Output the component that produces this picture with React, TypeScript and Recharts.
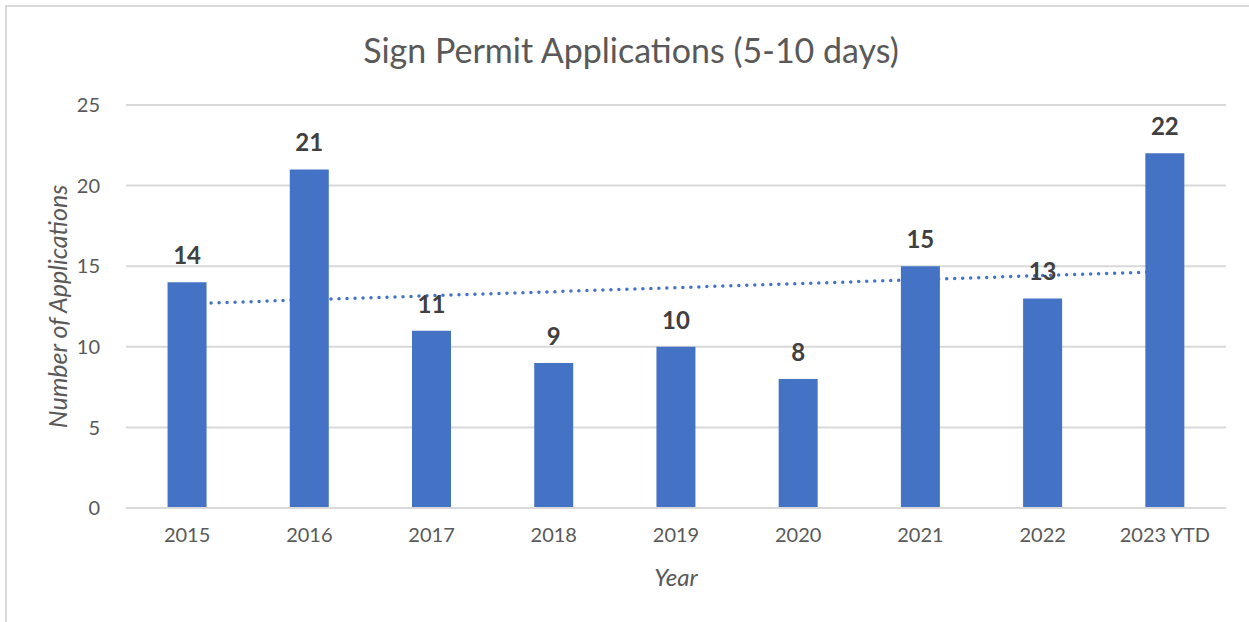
import {
  ComposedChart,
  CartesianGrid,
  XAxis,
  YAxis,
  Bar,
  Line,
  LabelList,
  Label,
} from "recharts";

const YEARS = [
  "2015",
  "2016",
  "2017",
  "2018",
  "2019",
  "2020",
  "2021",
  "2022",
  "2023 YTD",
];
const APPLICATIONS = [14, 21, 11, 9, 10, 8, 15, 13, 22];
// linear trendline, end points
const TREND = [12.67, null, null, null, null, null, null, null, 14.67];
const Y_TICKS = [0, 5, 10, 15, 20, 25];

const FONT = "Lato, 'Noto Sans', sans-serif";
const BLUE = "#4472C4";

const data = YEARS.map((year, i) => ({
  year,
  value: APPLICATIONS[i],
  trend: TREND[i],
}));

export default function App() {
  return (
    <div
      style={{
        position: "absolute",
        left: 0,
        top: 0,
        width: 1249,
        height: 622,
        background: "#fff",
        fontFamily: FONT,
      }}
    >
      <div
        style={{
          position: "absolute",
          left: 5,
          top: 5,
          width: 1260,
          height: 640,
          border: "2px solid #d9d9d9",
        }}
      />
      <div
        style={{
          position: "absolute",
          left: 0,
          width: 1262,
          top: 29,
          textAlign: "center",
          fontSize: 34,
          color: "#595959",
        }}
      >
        Sign Permit Applications (5-10 days)
      </div>
      <ComposedChart
        width={1249}
        height={622}
        data={data}
        margin={{ top: 105, right: 23, bottom: 36, left: 46 }}
        barCategoryGap="34%"
        style={{ position: "absolute", left: 0, top: 0 }}
      >
        <CartesianGrid vertical={false} stroke="#d9d9d9" strokeWidth={2} />
        <XAxis
          dataKey="year"
          axisLine={{ stroke: "#d9d9d9", strokeWidth: 2 }}
          tickLine={false}
          tick={{ fill: "#595959", fontSize: 20, fontFamily: FONT }}
          tickMargin={14}
          height={78}
        >
          <Label
            value="Year"
            position="insideBottom"
            offset={0}
            style={{
              fill: "#595959",
              fontSize: 24,
              fontStyle: "italic",
              fontFamily: FONT,
            }}
          />
        </XAxis>
        <YAxis
          domain={[0, 25]}
          ticks={Y_TICKS}
          axisLine={false}
          tickLine={false}
          tick={{ fill: "#595959", fontSize: 20, fontFamily: FONT }}
          tickMargin={20}
          width={80}
        >
          <Label
            value="Number of Applications"
            angle={-90}
            position="insideLeft"
            offset={12}
            style={{
              textAnchor: "middle",
              fill: "#595959",
              fontSize: 25,
              fontStyle: "italic",
              fontFamily: FONT,
            }}
          />
        </YAxis>
        <Bar dataKey="value" fill={BLUE} isAnimationActive={false}>
          <LabelList
            dataKey="value"
            position="top"
            offset={18}
            style={{
              fill: "#404040",
              fontSize: 24,
              fontWeight: 700,
              fontFamily: FONT,
            }}
          />
        </Bar>
        <Line
          dataKey="trend"
          stroke={BLUE}
          strokeWidth={3.5}
          strokeDasharray="0 8"
          strokeLinecap="round"
          dot={false}
          activeDot={false}
          connectNulls
          isAnimationActive={false}
        />
      </ComposedChart>
    </div>
  );
}
